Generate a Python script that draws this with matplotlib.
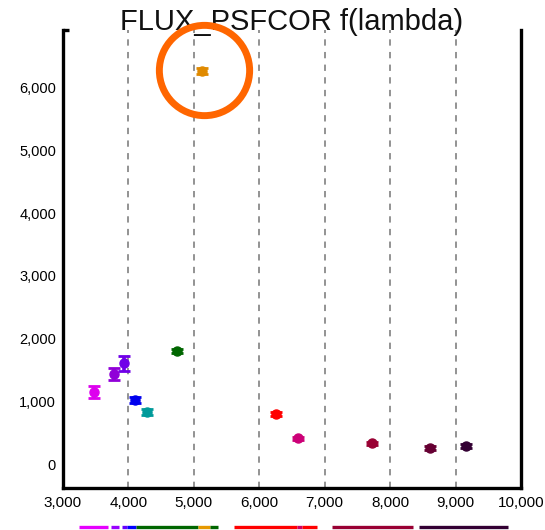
import matplotlib.pyplot as plt
from matplotlib.ticker import FuncFormatter

plt.rcParams['font.family'] = ['Liberation Sans', 'DejaVu Sans']

# filter photometry: effective wavelength (A), flux and 1-sigma error
wavelength = [3474, 3780, 3932, 4100, 4285, 4740, 5125, 6255, 6590, 7720, 8610, 9160]
flux = [1148, 1435, 1610, 1020, 830, 1800, 6268, 797, 415, 335, 255, 287]
flux_err = [100, 95, 120, 50, 45, 30, 50, 30, 25, 25, 30, 30]
point_colors = ['#dd00ee', '#9000d8', '#7000e8', '#0000ee', '#009a9a', '#006600',
                '#e08a00', '#ff0000', '#cc0077', '#990033', '#660033', '#330033']

# filter coverage strip under the x axis
band_start = [3245, 3734, 3902, 3978, 4116, 5063, 5247, 5613, 6576, 6653, 7111, 8441]
band_end = [3688, 3856, 3978, 4116, 5063, 5247, 5369, 6576, 6653, 6882, 8349, 9801]
band_colors = ['#e600ff', '#9900ff', '#6600ff', '#0000ff', '#006600', '#e69900',
               '#006600', '#ff0000', '#cc0066', '#ff0000', '#990033', '#330033']

highlight_idx = 6

x_ticks = [3000, 4000, 5000, 6000, 7000, 8000, 9000, 10000]
y_ticks = [0, 1000, 2000, 3000, 4000, 5000, 6000]

fig = plt.figure(figsize=(5.45, 5.30), dpi=100)
ax = fig.add_axes([0.1156, 0.0792, 0.8404, 0.8641])

for x, y, e, c in zip(wavelength, flux, flux_err, point_colors):
    ax.errorbar(x, y, yerr=e, fmt='o', color=c, ms=6.5, elinewidth=2.6,
                capsize=4.3, capthick=2.0, zorder=3)

ax.set_xlim(3000, 10000)
ax.set_ylim(-380, 6920)
ax.set_xticks(x_ticks)
ax.set_yticks(y_ticks)
comma = FuncFormatter(lambda v, p: f'{int(v):,}')
ax.xaxis.set_major_formatter(comma)
ax.yaxis.set_major_formatter(comma)
ax.tick_params(axis='both', length=0, labelsize=11)
ax.tick_params(axis='x', pad=6)
ax.tick_params(axis='y', pad=5, labelsize=10.5)

for x in x_ticks[1:-1]:
    ax.axvline(x, color='#8a8a8a', lw=1.3, ls=(0, (3.5, 3.5)), zorder=1)

ax.spines['top'].set_visible(False)
for side in ['left', 'right', 'bottom']:
    ax.spines[side].set_linewidth(2.4)
ax.plot([0, 0.014], [1, 1], transform=ax.transAxes, color='black', lw=2.4,
        clip_on=False, solid_capstyle='butt')

for s, e, c in zip(band_start, band_end, band_colors):
    ax.plot([s, e], [-0.085, -0.085], color=c, lw=2.4,
            transform=ax.get_xaxis_transform(), clip_on=False,
            solid_capstyle='butt')

ax.text(0.5, 1.0, 'FLUX_PSFCOR f(lambda)', transform=ax.transAxes,
        ha='center', va='baseline', fontsize=21, color='#111111')

# ring around the outlying point
ax.plot(wavelength[highlight_idx] + 35, flux[highlight_idx] + 15, 'o', ms=65,
        mfc='none', mec='#ff6600', mew=5, clip_on=False, zorder=5)

fig.savefig('out.png', dpi=100)
